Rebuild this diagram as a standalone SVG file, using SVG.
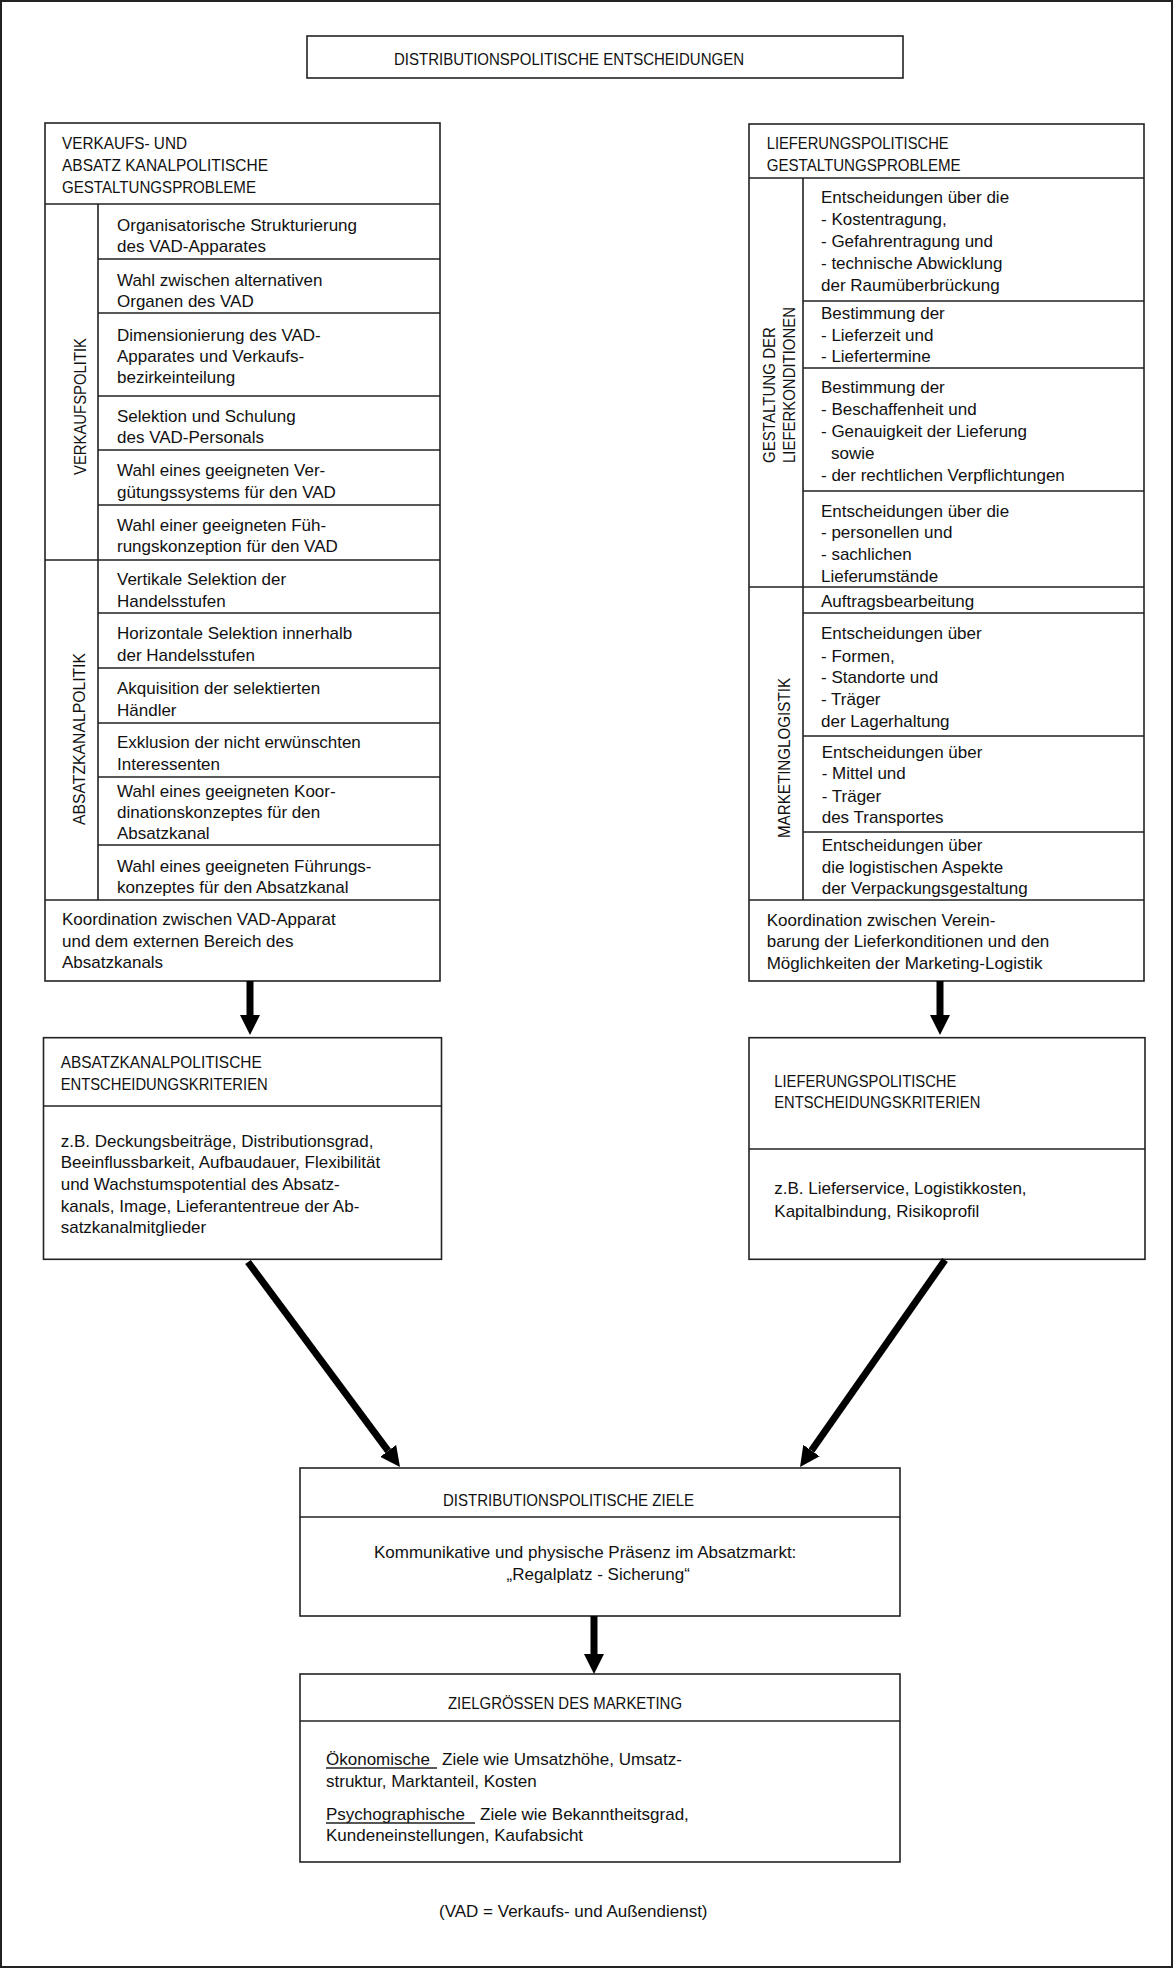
<svg xmlns="http://www.w3.org/2000/svg" width="1173" height="1968" viewBox="0 0 1173 1968">
<style>
  text { font-family: "Liberation Sans", Arial, sans-serif; fill: #111; }
  .b { font-size: 17px; }
  .c { font-size: 16.5px; }
  .box { fill: #fff; stroke: #222; stroke-width: 1.6; }
  .ln { stroke: #222; stroke-width: 1.6; fill: none; }
  .arr { stroke: #000; stroke-width: 7; fill: none; marker-end: url(#ah); }
</style>
<defs>
  <marker id="ah" markerUnits="userSpaceOnUse" markerWidth="22" markerHeight="22" refX="0" refY="10" orient="auto">
    <path d="M0,0 L20,10 L0,20 z" fill="#000"/>
  </marker>
</defs>
<rect x="1" y="1" width="1171" height="1966" fill="#fff" stroke="#222" stroke-width="2"/>

<g id="title">
  <rect class="box" x="307" y="36" width="596" height="42"/>
  <text class="c" x="394" y="65" textLength="350" lengthAdjust="spacingAndGlyphs">DISTRIBUTIONSPOLITISCHE ENTSCHEIDUNGEN</text>
</g>

<g id="left-problems">
  <rect class="box" x="45" y="123" width="395" height="858"/>
  <path class="ln" d="M45,204 H440 M98,204 V900 M45,560 H440 M45,900 H440
    M98,259 H440 M98,313 H440 M98,396 H440 M98,450 H440 M98,505 H440
    M98,613 H440 M98,668 H440 M98,723 H440 M98,777 H440 M98,845 H440"/>
  <text class="c" x="62" y="149" textLength="125" lengthAdjust="spacingAndGlyphs">VERKAUFS- UND</text>
  <text class="c" x="62" y="170.7" textLength="206" lengthAdjust="spacingAndGlyphs">ABSATZ KANALPOLITISCHE</text>
  <text class="c" x="62" y="192.7" textLength="194" lengthAdjust="spacingAndGlyphs">GESTALTUNGSPROBLEME</text>
  <text class="c" transform="translate(86,475) rotate(-90)" textLength="137" lengthAdjust="spacingAndGlyphs">VERKAUFSPOLITIK</text>
  <text class="c" transform="translate(85,825) rotate(-90)" textLength="172" lengthAdjust="spacingAndGlyphs">ABSATZKANALPOLITIK</text>
  <text class="b">
    <tspan x="117" y="230.7">Organisatorische Strukturierung</tspan><tspan x="117" y="252">des VAD-Apparates</tspan>
    <tspan x="117" y="285.7">Wahl zwischen alternativen</tspan><tspan x="117" y="306.7">Organen des VAD</tspan>
    <tspan x="117" y="340.7">Dimensionierung des VAD-</tspan><tspan x="117" y="362">Apparates und Verkaufs-</tspan><tspan x="117" y="383">bezirkeinteilung</tspan>
    <tspan x="117" y="421.7">Selektion und Schulung</tspan><tspan x="117" y="443">des VAD-Personals</tspan>
    <tspan x="117" y="476">Wahl eines geeigneten Ver-</tspan><tspan x="117" y="497.7">gütungssystems für den VAD</tspan>
    <tspan x="117" y="530.7">Wahl einer geeigneten Füh-</tspan><tspan x="117" y="552">rungskonzeption für den VAD</tspan>
    <tspan x="117" y="585">Vertikale Selektion der</tspan><tspan x="117" y="606.7">Handelsstufen</tspan>
    <tspan x="117" y="639.3">Horizontale Selektion innerhalb</tspan><tspan x="117" y="661">der Handelsstufen</tspan>
    <tspan x="117" y="694">Akquisition der selektierten</tspan><tspan x="117" y="715.7">Händler</tspan>
    <tspan x="117" y="748.3">Exklusion der nicht erwünschten</tspan><tspan x="117" y="770">Interessenten</tspan>
    <tspan x="117" y="796.7">Wahl eines geeigneten Koor-</tspan><tspan x="117" y="817.7">dinationskonzeptes für den</tspan><tspan x="117" y="839.3">Absatzkanal</tspan>
    <tspan x="117" y="871.7">Wahl eines geeigneten Führungs-</tspan><tspan x="117" y="892.7">konzeptes für den Absatzkanal</tspan>
    <tspan x="62" y="925">Koordination zwischen VAD-Apparat</tspan><tspan x="62" y="947.3">und dem externen Bereich des</tspan><tspan x="62" y="968.3">Absatzkanals</tspan>
  </text>
</g>

<g id="right-problems">
  <rect class="box" x="749" y="124" width="395" height="857"/>
  <path class="ln" d="M749,178 H1144 M803,178 V900 M749,587 H1144 M749,900 H1144
    M803,301 H1144 M803,368 H1144 M803,491 H1144 M803,613 H1144 M803,736 H1144 M803,832 H1144"/>
  <text class="c" x="766.7" y="149" textLength="182" lengthAdjust="spacingAndGlyphs">LIEFERUNGSPOLITISCHE</text>
  <text class="c" x="766.7" y="170.7" textLength="194" lengthAdjust="spacingAndGlyphs">GESTALTUNGSPROBLEME</text>
  <text class="c" transform="translate(775,463) rotate(-90)" textLength="136" lengthAdjust="spacingAndGlyphs">GESTALTUNG DER</text>
  <text class="c" transform="translate(795,463) rotate(-90)" textLength="156" lengthAdjust="spacingAndGlyphs">LIEFERKONDITIONEN</text>
  <text class="c" transform="translate(790,838) rotate(-90)" textLength="160" lengthAdjust="spacingAndGlyphs">MARKETINGLOGISTIK</text>
  <text class="b">
    <tspan x="821" y="203.3">Entscheidungen über die</tspan><tspan x="821" y="225">- Kostentragung,</tspan><tspan x="821" y="246.7">- Gefahrentragung und</tspan><tspan x="821" y="269">- technische Abwicklung</tspan><tspan x="821" y="290.7">der Raumüberbrückung</tspan>
    <tspan x="821" y="319">Bestimmung der</tspan><tspan x="821" y="340.7">- Lieferzeit und</tspan><tspan x="821" y="362.3">- Liefertermine</tspan>
    <tspan x="821" y="393.3">Bestimmung der</tspan><tspan x="821" y="415">- Beschaffenheit und</tspan><tspan x="821" y="437.3">- Genauigkeit der Lieferung</tspan><tspan x="831" y="459">sowie</tspan><tspan x="821" y="480.7">- der rechtlichen Verpflichtungen</tspan>
    <tspan x="821" y="516.7">Entscheidungen über die</tspan><tspan x="821" y="538.3">- personellen und</tspan><tspan x="821" y="560">- sachlichen</tspan><tspan x="821" y="581.7">Lieferumstände</tspan>
    <tspan x="821" y="606.7">Auftragsbearbeitung</tspan>
    <tspan x="821" y="639.3">Entscheidungen über</tspan><tspan x="821" y="661.7">- Formen,</tspan><tspan x="821" y="683.3">- Standorte und</tspan><tspan x="821" y="705">- Träger</tspan><tspan x="821" y="726.7">der Lagerhaltung</tspan>
    <tspan x="821.7" y="757.7">Entscheidungen über</tspan><tspan x="821.7" y="779.3">- Mittel und</tspan><tspan x="821.7" y="801.7">- Träger</tspan><tspan x="821.7" y="823.3">des Transportes</tspan>
    <tspan x="821.7" y="851">Entscheidungen über</tspan><tspan x="821.7" y="872.7">die logistischen Aspekte</tspan><tspan x="821.7" y="894.3">der Verpackungsgestaltung</tspan>
    <tspan x="766.7" y="925.7">Koordination zwischen Verein-</tspan><tspan x="766.7" y="947.3">barung der Lieferkonditionen und den</tspan><tspan x="766.7" y="969">Möglichkeiten der Marketing-Logistik</tspan>
  </text>
</g>

<g id="left-criteria">
  <rect class="box" x="43.5" y="1037.7" width="398" height="221.6"/>
  <path class="ln" d="M43.5,1106 H441.5"/>
  <text class="c" x="60.7" y="1068.3" textLength="201" lengthAdjust="spacingAndGlyphs">ABSATZKANALPOLITISCHE</text>
  <text class="c" x="60.7" y="1090" textLength="207" lengthAdjust="spacingAndGlyphs">ENTSCHEIDUNGSKRITERIEN</text>
  <text class="b"><tspan x="60.7" y="1146.7">z.B. Deckungsbeiträge, Distributionsgrad,</tspan><tspan x="60.7" y="1168.3">Beeinflussbarkeit, Aufbaudauer, Flexibilität</tspan><tspan x="60.7" y="1190">und Wachstumspotential des Absatz-</tspan><tspan x="60.7" y="1211.7">kanals, Image, Lieferantentreue der Ab-</tspan><tspan x="60.7" y="1233.3">satzkanalmitglieder</tspan></text>
</g>

<g id="right-criteria">
  <rect class="box" x="749" y="1037.7" width="396" height="221.6"/>
  <path class="ln" d="M749,1149 H1145"/>
  <text class="c" x="774.3" y="1086.7" textLength="182" lengthAdjust="spacingAndGlyphs">LIEFERUNGSPOLITISCHE</text>
  <text class="c" x="774.3" y="1108.3" textLength="206" lengthAdjust="spacingAndGlyphs">ENTSCHEIDUNGSKRITERIEN</text>
  <text class="b"><tspan x="774.3" y="1194">z.B. Lieferservice, Logistikkosten,</tspan><tspan x="774.3" y="1216.7">Kapitalbindung, Risikoprofil</tspan></text>
</g>

<g id="goals">
  <rect class="box" x="300" y="1468" width="600" height="148"/>
  <path class="ln" d="M300,1517 H900"/>
  <text class="c" x="443" y="1505.7" textLength="251" lengthAdjust="spacingAndGlyphs">DISTRIBUTIONSPOLITISCHE ZIELE</text>
  <text class="b"><tspan x="374" y="1558.3">Kommunikative und physische Präsenz im Absatzmarkt:</tspan><tspan x="506.5" y="1580">„Regalplatz - Sicherung“</tspan></text>
</g>

<g id="targets">
  <rect class="box" x="300" y="1674" width="600" height="188"/>
  <path class="ln" d="M300,1721 H900"/>
  <text class="c" x="448" y="1709.3" textLength="234" lengthAdjust="spacingAndGlyphs">ZIELGRÖSSEN DES MARKETING</text>
  <text class="b"><tspan x="326" y="1765">Ökonomische</tspan><tspan x="442" y="1765">Ziele wie Umsatzhöhe, Umsatz-</tspan><tspan x="326" y="1786.7">struktur, Marktanteil, Kosten</tspan><tspan x="326" y="1820">Psychographische</tspan><tspan x="480" y="1820">Ziele wie Bekanntheitsgrad,</tspan><tspan x="326" y="1841">Kundeneinstellungen, Kaufabsicht</tspan></text>
  <path class="ln" stroke-width="1.2" d="M326,1768 H437 M326,1823 H475"/>
</g>

<g id="note">
  <text class="b" x="439" y="1916.7">(VAD = Verkaufs- und Außendienst)</text>
</g>

<g id="connectors">
  <line class="arr" x1="250" y1="981" x2="250" y2="1015"/>
  <line class="arr" x1="940" y1="981" x2="940" y2="1015"/>
  <line class="arr" x1="248" y1="1262" x2="388.1" y2="1450.9"/>
  <line class="arr" x1="945" y1="1260" x2="811.5" y2="1450.6"/>
  <line class="arr" x1="594" y1="1616" x2="594" y2="1654"/>
</g>
</svg>
